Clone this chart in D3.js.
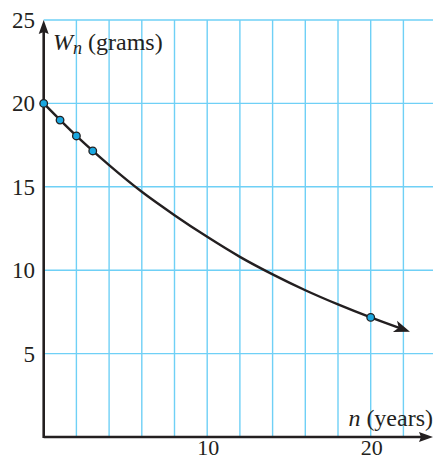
<!DOCTYPE html>
<html><head><meta charset="utf-8">
<script src="https://cdn.jsdelivr.net/npm/d3@7"></script>
<style>body{margin:0;background:#fff}svg{display:block}text{font-family:"Liberation Serif","Times New Roman",serif}</style>
</head><body>
<svg id="c" width="433" height="460"></svg>
<script>
const pointN = [0, 1, 2, 3, 20];
const pointW = [20, 19, 18.05, 17.15, 7.17];
const curveN = [0, 2, 4, 6, 8, 10, 12, 14, 16, 18, 20, 22];
const curveW = [20, 18.05, 16.3, 14.7, 13.3, 12.0, 10.8, 9.75, 8.8, 7.95, 7.17, 6.45];
const xTicks = [10, 20];
const yTicks = [5, 10, 15, 20, 25];
const xGrid = [2, 4, 6, 8, 10, 12, 14, 16, 18, 20, 22];

const svg = d3.select("#c");
const x = d3.scaleLinear().domain([0, 20]).range([43.7, 370.7]);
const y = d3.scaleLinear().domain([0, 25]).range([437, 20]);
const gridColor = "#6fd0f6";
const ink = "#231f20";

// grid
svg.append("g").selectAll("line").data(xGrid).join("line")
  .attr("x1", d => x(d)).attr("x2", d => x(d))
  .attr("y1", y(25)).attr("y2", y(0))
  .attr("stroke", gridColor).attr("stroke-width", 1.4);
svg.append("g").selectAll("line").data(yTicks).join("line")
  .attr("x1", x(0)).attr("x2", 433)
  .attr("y1", d => y(d)).attr("y2", d => y(d))
  .attr("stroke", gridColor).attr("stroke-width", 1.4);

// axes
svg.append("line").attr("x1", x(0)).attr("x2", 424).attr("y1", y(0)).attr("y2", y(0))
  .attr("stroke", ink).attr("stroke-width", 2.6);
svg.append("path").attr("d", `M433,${y(0)} L419,${y(0)-5} L421,${y(0)} L419,${y(0)+5} Z`).attr("fill", ink);
svg.append("line").attr("x1", x(0)).attr("x2", x(0)).attr("y1", y(0)+1).attr("y2", 30)
  .attr("stroke", ink).attr("stroke-width", 2.6);
svg.append("path").attr("d", `M${x(0)},20 L${x(0)-5},34 L${x(0)},32 L${x(0)+5},34 Z`).attr("fill", ink);

// tick labels
svg.append("g").selectAll("text").data(yTicks).join("text")
  .attr("x", 35).attr("y", d => y(d) + 8)
  .attr("text-anchor", "end").attr("font-size", 23)
  .attr("fill", ink).text(d => d);
svg.append("g").selectAll("text").data(xTicks).join("text")
  .attr("x", d => x(d) + 1).attr("y", 455)
  .attr("text-anchor", "middle").attr("font-size", 22)
  .attr("fill", ink).text(d => d);

// axis titles
const t1 = svg.append("text").attr("x", 53).attr("y", 50)
  .attr("font-size", 24).attr("fill", ink);
t1.append("tspan").attr("font-style", "italic").text("W");
t1.append("tspan").attr("font-style", "italic").attr("font-size", 18).attr("dy", 4).text("n");
t1.append("tspan").attr("dy", -4).text(" (grams)");
const t2 = svg.append("text").attr("x", 433).attr("y", 426).attr("text-anchor", "end")
  .attr("font-size", 24).attr("fill", ink);
t2.append("tspan").attr("font-style", "italic").text("n");
t2.append("tspan").text(" (years)");

// curve
const cdata = curveN.map((n, i) => [n, curveW[i]]);
const line = d3.line().x(d => x(d[0])).y(d => y(d[1])).curve(d3.curveMonotoneX);
svg.append("path").attr("d", line(cdata))
  .attr("fill", "none").attr("stroke", ink).attr("stroke-width", 2.4);
// arrowhead at end of curve
const last = cdata[cdata.length - 1], prev = cdata[cdata.length - 2];
const ang = Math.atan2(y(last[1]) - y(prev[1]), x(last[0]) - x(prev[0]));
const tip = [x(last[0]) + 7 * Math.cos(ang), y(last[1]) + 7 * Math.sin(ang)];
svg.append("path").attr("d", "M0,0 L-16,-6 L-12,0 L-16,6 Z").attr("fill", ink)
  .attr("transform", `translate(${tip[0]},${tip[1]}) rotate(${ang * 180 / Math.PI})`);

// points
svg.append("g").selectAll("circle").data(pointN.map((n, i) => [n, pointW[i]])).join("circle")
  .attr("cx", d => x(d[0])).attr("cy", d => y(d[1])).attr("r", 3.8)
  .attr("fill", "#1aa7e0").attr("stroke", ink).attr("stroke-width", 1.3);
</script>
</body></html>
